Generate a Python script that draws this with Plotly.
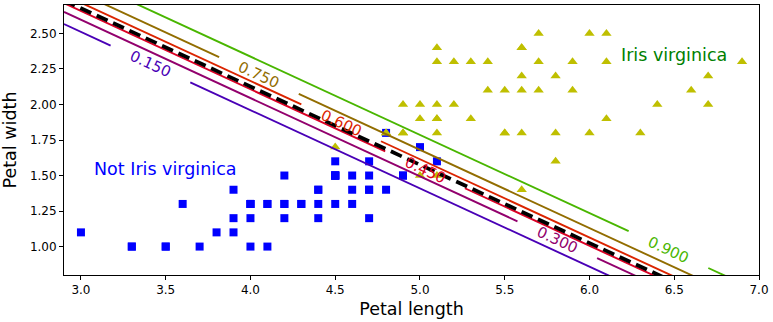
import math
import plotly.graph_objects as go

# ---- data (iris petal measurements, versicolor = not virginica, virginica) ----
not_virg_len = [4.7, 4.5, 4.9, 4.0, 4.6, 4.5, 4.7, 3.3, 4.6, 3.9, 3.5, 4.2, 4.0, 4.7, 3.6,
                4.4, 4.5, 4.1, 4.5, 3.9, 4.8, 4.0, 4.9, 4.7, 4.3, 4.4, 4.8, 5.0, 4.5, 3.5,
                3.8, 3.7, 3.9, 5.1, 4.5, 4.5, 4.7, 4.4, 4.1, 4.0, 4.4, 4.6, 4.0, 3.3, 4.2,
                4.2, 4.2, 4.3, 3.0, 4.1]
not_virg_wid = [1.4, 1.5, 1.5, 1.3, 1.5, 1.3, 1.6, 1.0, 1.3, 1.4, 1.0, 1.5, 1.0, 1.4, 1.3,
                1.4, 1.5, 1.0, 1.5, 1.1, 1.8, 1.3, 1.5, 1.2, 1.3, 1.4, 1.4, 1.7, 1.5, 1.0,
                1.1, 1.0, 1.2, 1.6, 1.5, 1.6, 1.5, 1.3, 1.3, 1.3, 1.2, 1.4, 1.2, 1.0, 1.3,
                1.2, 1.3, 1.3, 1.1, 1.3]
virg_len = [6.0, 5.1, 5.9, 5.6, 5.8, 6.6, 4.5, 6.3, 5.8, 6.1, 5.1, 5.3, 5.5, 5.0, 5.1,
            5.3, 5.5, 6.7, 6.9, 5.0, 5.7, 4.9, 6.7, 4.9, 5.7, 6.0, 4.8, 4.9, 5.6, 5.8,
            6.1, 6.4, 5.6, 5.1, 5.6, 6.1, 5.6, 5.5, 4.8, 5.4, 5.6, 5.1, 5.1, 5.9, 5.7,
            5.2, 5.0, 5.2, 5.4, 5.1]
virg_wid = [2.5, 1.9, 2.1, 1.8, 2.2, 2.1, 1.7, 1.8, 1.8, 2.5, 2.0, 1.9, 2.1, 2.0, 2.4,
            2.3, 1.8, 2.2, 2.3, 1.5, 2.3, 2.0, 2.0, 1.8, 2.1, 1.8, 1.8, 1.8, 2.1, 1.6,
            1.9, 2.0, 2.2, 1.5, 1.4, 2.3, 2.4, 1.8, 1.8, 2.1, 2.4, 2.3, 1.9, 2.3, 2.5,
            2.3, 1.9, 2.0, 2.3, 1.8]

# logistic-regression model: intercept, petal length, petal width
theta = [-45.2, 5.75, 10.44]
levels = [0.15, 0.30, 0.45, 0.60, 0.75, 0.90]
level_colors = ["#4900b6", "#92006d", "#db0024", "#db2400", "#926d00", "#49b600"]
label_x = [3.41, 5.81, 5.03, 4.535, 4.05, 6.466]   # where each inline label sits

X_RANGE = [2.9, 7.0]
Y_RANGE = [0.8, 2.7]

W, H = 773, 322
ML, MR, MT, MB = 64, 11, 4, 47
PW, PH = W - ML - MR, H - MT - MB
FONT = "DejaVu Sans"


def line_y(x, p):
    lg = math.log(p / (1 - p))
    return (lg - theta[0] - theta[1] * x) / theta[2]


fig = go.Figure()
fig.add_trace(go.Scatter(x=not_virg_len, y=not_virg_wid, mode="markers",
                         marker=dict(symbol="square", size=8, color="#0000ff"),
                         showlegend=False))
fig.add_trace(go.Scatter(x=virg_len, y=virg_wid, mode="markers",
                         marker=dict(symbol="triangle-up", size=9, color="#bfbf00"),
                         showlegend=False))

px_per_x = PW / (X_RANGE[1] - X_RANGE[0])
px_per_y = PH / (Y_RANGE[1] - Y_RANGE[0])
angle = math.degrees(math.atan(theta[1] / theta[2] * px_per_y / px_per_x))
gap = 40 / px_per_x

annotations = []
for p, c, lx in zip(levels, level_colors, label_x):
    xs = [X_RANGE[0], lx - gap, None, lx + gap, X_RANGE[1]]
    ys = [line_y(v, p) if v is not None else None for v in xs]
    fig.add_trace(go.Scatter(x=xs, y=ys, mode="lines", line=dict(color=c, width=1.9),
                             showlegend=False, hoverinfo="skip"))
    annotations.append(dict(x=lx, y=line_y(lx, p), xref="x", yref="y", text=f"{p:.3f}",
                            showarrow=False, textangle=angle,
                            font=dict(family=FONT, size=15, color=c)))

fig.add_trace(go.Scatter(x=X_RANGE, y=[line_y(v, 0.5) for v in X_RANGE], mode="lines",
                         line=dict(color="black", width=3.75, dash="12px,6px"),
                         showlegend=False, hoverinfo="skip"))

annotations.append(dict(x=3.5, y=1.5, xref="x", yref="y", text="Not Iris virginica",
                        showarrow=False, xanchor="center", yanchor="bottom", yshift=-5,
                        font=dict(family=FONT, size=17.5, color="#0000ff")))
annotations.append(dict(x=6.5, y=2.3, xref="x", yref="y", text="Iris virginica",
                        showarrow=False, xanchor="center", yanchor="bottom", yshift=-5,
                        font=dict(family=FONT, size=17.5, color="#008000")))

axis_common = dict(showline=True, mirror=True, linecolor="black", linewidth=1,
                   ticks="outside", ticklen=4, tickwidth=1, tickcolor="black",
                   showgrid=False, zeroline=False,
                   tickfont=dict(family=FONT, size=12, color="black"))

fig.update_layout(
    width=W, height=H,
    margin=dict(l=ML, r=MR, t=MT, b=MB),
    paper_bgcolor="white", plot_bgcolor="white",
    font=dict(family=FONT),
    xaxis=dict(range=X_RANGE, tick0=3.0, dtick=0.5, tickformat=".1f",
               title=dict(text="Petal length", standoff=6,
                          font=dict(family=FONT, size=17.5, color="black")),
               **axis_common),
    yaxis=dict(range=Y_RANGE, tick0=1.0, dtick=0.25, tickformat=".2f",
               title=dict(text="Petal width", standoff=8,
                          font=dict(family=FONT, size=17.5, color="black")),
               **axis_common),
    annotations=annotations,
)

fig.write_html("out.html")
